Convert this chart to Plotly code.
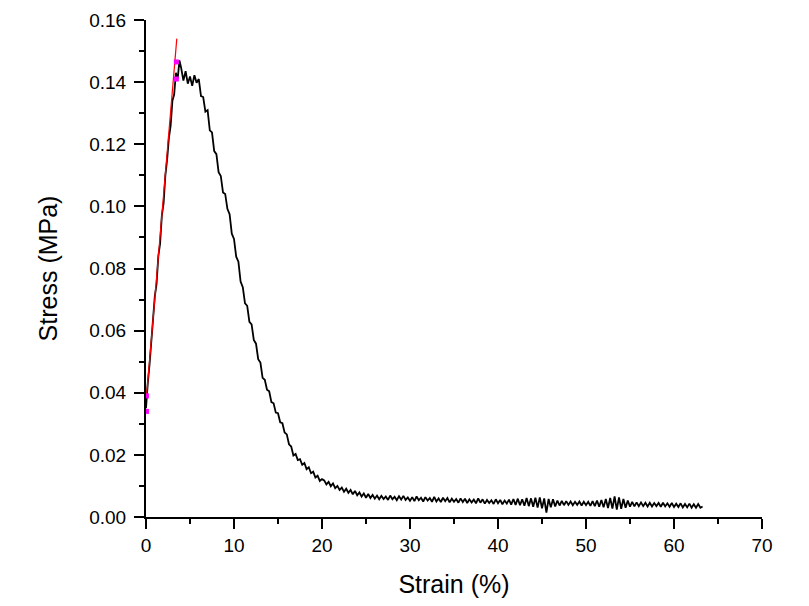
import plotly.graph_objects as go

# ---- data ----
strain_rise = [0.0, 0.1, 0.2, 0.4, 0.6, 0.8, 1.0, 1.2, 1.4, 1.6, 1.8, 2.0, 2.2, 2.4, 2.6,
               2.8, 3.0, 3.2, 3.4, 3.6, 3.8]
stress_rise = [0.035, 0.040, 0.043, 0.049, 0.057, 0.062, 0.071, 0.075, 0.084, 0.088, 0.097,
               0.101, 0.110, 0.115, 0.122, 0.126, 0.134, 0.136, 0.143, 0.141, 0.147]

strain_drop = [4.00, 4.25, 4.50, 4.75, 5.00, 5.25, 5.50, 5.75, 6.00, 6.25, 6.50, 6.75, 7.00,
               7.25, 7.50, 7.75, 8.00, 8.25, 8.50, 8.75, 9.00, 9.25, 9.50, 9.75, 10.00,
               10.25, 10.50, 10.75, 11.00, 11.25, 11.50, 11.75, 12.00, 12.25, 12.50, 12.75,
               13.00, 13.25, 13.50, 13.75, 14.00, 14.25, 14.50, 14.75, 15.00, 15.25, 15.50,
               15.75, 16.00, 16.25, 16.50, 16.75, 17.00, 17.25, 17.50, 17.75, 18.00, 18.25,
               18.50, 18.75, 19.00, 19.25, 19.50, 19.75, 20.00]
stress_drop = [0.1445, 0.1405, 0.1435, 0.1395, 0.1418, 0.1388, 0.1422, 0.1398, 0.1410, 0.1355,
               0.1352, 0.1305, 0.1310, 0.1245, 0.1238, 0.1178, 0.1168, 0.1110, 0.1098, 0.1045,
               0.1040, 0.0992, 0.0975, 0.0912, 0.0895, 0.0838, 0.0822, 0.0758, 0.0740, 0.0688,
               0.0680, 0.0628, 0.0620, 0.0570, 0.0558, 0.0508, 0.0497, 0.0448, 0.0442, 0.0410,
               0.0405, 0.0370, 0.0366, 0.0336, 0.0334, 0.0305, 0.0302, 0.0272, 0.0266, 0.0234,
               0.0227, 0.0198, 0.0203, 0.0183, 0.0186, 0.0168, 0.0174, 0.0154, 0.0160, 0.0141,
               0.0146, 0.0127, 0.0133, 0.0116, 0.0122]

strain_tail = [
    20.25, 20.50, 20.75, 21.00, 21.25, 21.50, 21.75, 22.00, 22.25, 22.50, 22.75, 23.00,
    23.25, 23.50, 23.75, 24.00, 24.25, 24.50, 24.75, 25.00, 25.25, 25.50, 25.75, 26.00,
    26.25, 26.50, 26.75, 27.00, 27.25, 27.50, 27.75, 28.00, 28.25, 28.50, 28.75, 29.00,
    29.25, 29.50, 29.75, 30.00, 30.25, 30.50, 30.75, 31.00, 31.25, 31.50, 31.75, 32.00,
    32.25, 32.50, 32.75, 33.00, 33.25, 33.50, 33.75, 34.00, 34.25, 34.50, 34.75, 35.00,
    35.25, 35.50, 35.75, 36.00, 36.25, 36.50, 36.75, 37.00, 37.25, 37.50, 37.75, 38.00,
    38.25, 38.50, 38.75, 39.00, 39.25, 39.50, 39.75, 40.00, 40.25, 40.50, 40.75, 41.00,
    41.25, 41.50, 41.75, 42.00, 42.25, 42.50, 42.75, 43.00, 43.25, 43.50, 43.75, 44.00,
    44.25, 44.50, 44.75, 45.00, 45.25, 45.50, 45.75, 46.00, 46.25, 46.50, 46.75, 47.00,
    47.25, 47.50, 47.75, 48.00, 48.25, 48.50, 48.75, 49.00, 49.25, 49.50, 49.75, 50.00,
    50.25, 50.50, 50.75, 51.00, 51.25, 51.50, 51.75, 52.00, 52.25, 52.50, 52.75, 53.00,
    53.25, 53.50, 53.75, 54.00, 54.25, 54.50, 54.75, 55.00, 55.25, 55.50, 55.75, 56.00,
    56.25, 56.50, 56.75, 57.00, 57.25, 57.50, 57.75, 58.00, 58.25, 58.50, 58.75, 59.00,
    59.25, 59.50, 59.75, 60.00, 60.25, 60.50, 60.75, 61.00, 61.25, 61.50, 61.75, 62.00,
    62.25, 62.50, 62.75, 63.00, 63.25]
stress_tail = [
    0.0118, 0.0105, 0.0113, 0.0099, 0.0108, 0.0093, 0.0100, 0.0087, 0.0095, 0.0081, 0.0091, 0.0078,
    0.0087, 0.0073, 0.0084, 0.0070, 0.0079, 0.0066, 0.0076, 0.0062, 0.0074, 0.0061, 0.0071, 0.0059,
    0.0069, 0.0057, 0.0068, 0.0058, 0.0066, 0.0055, 0.0069, 0.0057, 0.0065, 0.0054, 0.0067, 0.0056,
    0.0068, 0.0055, 0.0063, 0.0052, 0.0064, 0.0051, 0.0066, 0.0054, 0.0062, 0.0050, 0.0064, 0.0053,
    0.0061, 0.0049, 0.0065, 0.0050, 0.0060, 0.0048, 0.0062, 0.0051, 0.0061, 0.0047, 0.0059, 0.0049,
    0.0058, 0.0046, 0.0060, 0.0048, 0.0059, 0.0045, 0.0057, 0.0047, 0.0056, 0.0044, 0.0060, 0.0046,
    0.0057, 0.0043, 0.0055, 0.0045, 0.0054, 0.0042, 0.0057, 0.0044, 0.0055, 0.0041, 0.0053, 0.0043,
    0.0056, 0.0040, 0.0058, 0.0039, 0.0059, 0.0038, 0.0057, 0.0036, 0.0061, 0.0035, 0.0060, 0.0033,
    0.0062, 0.0030, 0.0063, 0.0028, 0.0060, 0.0014, 0.0058, 0.0031, 0.0057, 0.0034, 0.0053, 0.0037,
    0.0052, 0.0038, 0.0051, 0.0039, 0.0050, 0.0038, 0.0049, 0.0039, 0.0050, 0.0037, 0.0049, 0.0038,
    0.0049, 0.0036, 0.0051, 0.0035, 0.0053, 0.0033, 0.0055, 0.0031, 0.0058, 0.0029, 0.0061, 0.0027,
    0.0066, 0.0024, 0.0063, 0.0026, 0.0058, 0.0030, 0.0053, 0.0033, 0.0049, 0.0034, 0.0047, 0.0035,
    0.0047, 0.0035, 0.0046, 0.0034, 0.0046, 0.0034, 0.0045, 0.0035, 0.0045, 0.0033, 0.0046, 0.0034,
    0.0044, 0.0033, 0.0045, 0.0032, 0.0043, 0.0032, 0.0044, 0.0031, 0.0042, 0.0031, 0.0043, 0.0030,
    0.0041, 0.0030, 0.0042, 0.0030, 0.0034]

fit_strain = [0.05, 3.5]
fit_stress = [0.0385, 0.1540]

marker_strain = [0.05, 0.05, 3.45, 3.45]
marker_stress = [0.0390, 0.0340, 0.1465, 0.1410]

x_ticks = [0, 10, 20, 30, 40, 50, 60, 70]
y_ticks = [0.00, 0.02, 0.04, 0.06, 0.08, 0.10, 0.12, 0.14, 0.16]
y_tick_text = ["0.00", "0.02", "0.04", "0.06", "0.08", "0.10", "0.12", "0.14", "0.16"]

FONT = "Liberation Sans, Arial, sans-serif"

fig = go.Figure()
fig.add_trace(go.Scatter(
    x=strain_rise + strain_drop + strain_tail,
    y=stress_rise + stress_drop + stress_tail,
    mode="lines", line=dict(color="black", width=1.8), showlegend=False))
fig.add_trace(go.Scatter(
    x=fit_strain, y=fit_stress, mode="lines",
    line=dict(color="#ff0000", width=1.2), showlegend=False))
fig.add_trace(go.Scatter(
    x=marker_strain, y=marker_stress, mode="markers",
    marker=dict(color="#ff00ff", size=5, symbol="square"), showlegend=False))

axis_common = dict(
    showgrid=False, zeroline=False, showline=True, linecolor="black", linewidth=2,
    ticks="outside", ticklen=10, tickwidth=2, tickcolor="black",
    tickfont=dict(family=FONT, size=19, color="black"),
    mirror=False,
)

fig.update_xaxes(
    range=[0, 70], tickmode="array", tickvals=x_ticks,
    ticktext=[str(v) for v in x_ticks],
    minor=dict(ticks="outside", ticklen=5, tickwidth=2, tickcolor="black", dtick=5, tick0=0),
    title=dict(text="Strain (%)", font=dict(family=FONT, size=25, color="black"), standoff=21),
    **axis_common)
fig.update_yaxes(
    range=[0, 0.16], tickmode="array", tickvals=y_ticks, ticktext=y_tick_text,
    minor=dict(ticks="outside", ticklen=5, tickwidth=2, tickcolor="black", dtick=0.01, tick0=0),
    ticklabelstandoff=4,
    title=dict(text="Stress (MPa)", font=dict(family=FONT, size=25, color="black"), standoff=24),
    **axis_common)

fig.update_layout(
    width=809, height=606,
    margin=dict(l=138, r=55, t=12, b=97, autoexpand=False),
    paper_bgcolor="white", plot_bgcolor="white",
)

fig.write_html("out.html")
